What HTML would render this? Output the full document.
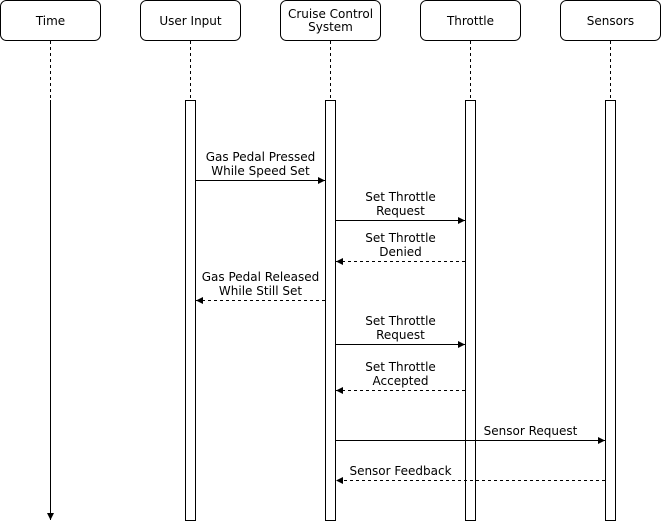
<!DOCTYPE html>
<html><head><meta charset="utf-8"><style>
html,body{margin:0;padding:0;background:#fff;}
svg{display:block;}
text{font-family:"DejaVu Sans","Liberation Sans",sans-serif;font-size:12px;fill:#000;}
</style></head><body>
<svg width="661" height="529" viewBox="0 0 661 529" xmlns="http://www.w3.org/2000/svg">
<defs>
<marker id="a" markerWidth="8" markerHeight="8" refX="7" refY="4" orient="auto" markerUnits="userSpaceOnUse">
<path d="M0,0.5 L7,4 L0,7.5 Z" fill="#000"/></marker>
</defs>
<g fill="#fff" stroke="#000" stroke-width="1">
<rect x="0.5" y="0.5" width="100" height="40" rx="6"/>
<rect x="140.5" y="0.5" width="100" height="40" rx="6"/>
<rect x="280.5" y="0.5" width="100" height="40" rx="6"/>
<rect x="420.5" y="0.5" width="100" height="40" rx="6"/>
<rect x="560.5" y="0.5" width="100" height="40" rx="6"/>
</g>
<g text-anchor="middle">
<text x="50.5" y="25">Time</text>
<text x="190.5" y="25">User Input</text>
<text x="330.5" y="18">Cruise Control</text>
<text x="330.5" y="31">System</text>
<text x="470.5" y="25">Throttle</text>
<text x="610.5" y="25">Sensors</text>
</g>
<g stroke="#000" stroke-dasharray="3,3">
<line x1="50.5" y1="41" x2="50.5" y2="100"/>
<line x1="190.5" y1="41" x2="190.5" y2="100"/>
<line x1="330.5" y1="41" x2="330.5" y2="100"/>
<line x1="470.5" y1="41" x2="470.5" y2="100"/>
<line x1="610.5" y1="41" x2="610.5" y2="100"/>
</g>
<line x1="50.5" y1="100" x2="50.5" y2="520" stroke="#000" marker-end="url(#a)"/>
<g fill="#fff" stroke="#000">
<rect x="185.5" y="100.5" width="10" height="420"/>
<rect x="325.5" y="100.5" width="10" height="420"/>
<rect x="465.5" y="100.5" width="10" height="420"/>
<rect x="605.5" y="100.5" width="10" height="420"/>
</g>
<g stroke="#000">
<line x1="196" y1="180.5" x2="325" y2="180.5" marker-end="url(#a)"/>
<line x1="336" y1="220.5" x2="465" y2="220.5" marker-end="url(#a)"/>
<line x1="465" y1="261.5" x2="336" y2="261.5" stroke-dasharray="3,3" marker-end="url(#a)"/>
<line x1="325" y1="300.5" x2="196" y2="300.5" stroke-dasharray="3,3" marker-end="url(#a)"/>
<line x1="336" y1="344.5" x2="465" y2="344.5" marker-end="url(#a)"/>
<line x1="465" y1="390.5" x2="336" y2="390.5" stroke-dasharray="3,3" marker-end="url(#a)"/>
<line x1="336" y1="440.5" x2="605" y2="440.5" marker-end="url(#a)"/>
<line x1="605" y1="480.5" x2="336" y2="480.5" stroke-dasharray="3,3" marker-end="url(#a)"/>
</g>
<g text-anchor="middle">
<text x="260.5" y="161">Gas Pedal Pressed</text>
<text x="260.5" y="175">While Speed Set</text>
<text x="400.5" y="201">Set Throttle</text>
<text x="400.5" y="215">Request</text>
<text x="400.5" y="242">Set Throttle</text>
<text x="400.5" y="256">Denied</text>
<text x="260.5" y="281">Gas Pedal Released</text>
<text x="260.5" y="295">While Still Set</text>
<text x="400.5" y="325">Set Throttle</text>
<text x="400.5" y="339">Request</text>
<text x="400.5" y="371">Set Throttle</text>
<text x="400.5" y="385">Accepted</text>
<text x="530.5" y="435">Sensor Request</text>
<text x="400.5" y="475">Sensor Feedback</text>
</g>
</svg>
</body></html>
